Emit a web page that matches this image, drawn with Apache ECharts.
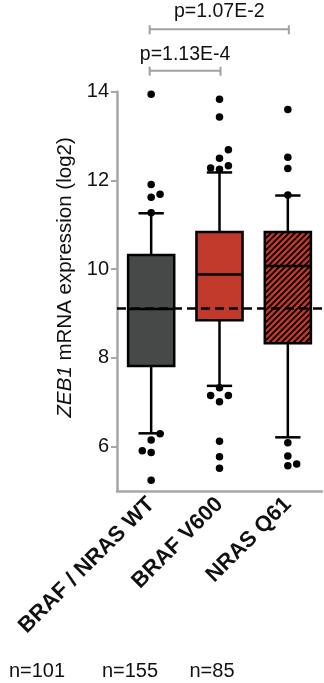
<!DOCTYPE html>
<html>
<head>
<meta charset="utf-8">
<script src="https://cdn.jsdelivr.net/npm/echarts@6/dist/echarts.min.js"></script>
<style>
html,body{margin:0;padding:0;background:#fff;}
#chart{width:324px;height:683px;}
</style>
</head>
<body>
<div id="chart"></div>
<script>
// ---- data ----
var categories = ['BRAF / NRAS WT', 'BRAF V600', 'NRAS Q61'];
var nLabels = ['n=101', 'n=155', 'n=85'];
var yTicks = [6, 8, 10, 12, 14];
var whiskerLow  = [6.30, 7.37, 6.21];
var quartile1   = [7.82, 8.85, 8.33];
var medians     = [9.10, 9.88, 10.07];
var quartile3   = [10.32, 10.84, 10.84];
var whiskerHigh = [11.26, 12.18, 11.66];
var refLine = 9.12;
// outliers: group index, horizontal jitter (category units), value
var outlierGroup  = [0,0,0,0,0,0,0,0,0,0, 1,1,1,1,1,1,1,1,1,1,1,1,1,1, 2,2,2,2,2,2,2,2];
var outlierJitter = [0,0,0,0.13,0,0.13,0,-0.13,0,0, 0,0,0.13,0,0.13,-0.13,0,0,-0.13,0.13,0,0,0,0, 0,0,0,0,0,0,0,0.13];
var outlierValue  = [13.94,11.91,11.62,11.69,11.27,6.29,6.15,5.91,5.87,5.24,
                     13.83,13.43,12.69,12.50,12.33,12.28,12.25,7.33,7.15,7.15,7.01,6.12,5.77,5.51,
                     13.60,12.52,12.27,11.67,6.09,5.79,5.57,5.61];
var comparisons = [ {from: 0, to: 1, text: 'p=1.13E-4'}, {from: 0, to: 2, text: 'p=1.07E-2'} ];

// ---- styles ----
var RED = '#c0392b';
function hatch() {
  var s = 6, c = document.createElement('canvas');
  c.width = s; c.height = s;
  var g = c.getContext('2d');
  g.fillStyle = RED; g.fillRect(0, 0, s, s);
  g.strokeStyle = '#000'; g.lineWidth = 1.8;
  g.beginPath();
  g.moveTo(-1, s + 1); g.lineTo(s + 1, -1);
  g.moveTo(-1, 1); g.lineTo(1, -1);
  g.moveTo(s - 1, s + 1); g.lineTo(s + 1, s - 1);
  g.stroke();
  return {image: c, repeat: 'repeat'};
}
var boxFills = ['#474948', RED, hatch()];

var boxData = categories.map(function (c, i) {
  return [i, whiskerLow[i], quartile1[i], medians[i], quartile3[i], whiskerHigh[i]];
});
var outlierData = outlierValue.map(function (v, i) {
  return [outlierGroup[i] + outlierJitter[i], v];
});

var chart = echarts.init(document.getElementById('chart'));
var AX = '#a6a6a6';
var option = {
  animation: false,
  grid: {left: 117, right: 2, top: 91.7, bottom: 192},
  xAxis: [{
    type: 'category', data: categories,
    axisLine: {onZero: false, lineStyle: {color: AX, width: 2.5}},
    axisTick: {alignWithLabel: true, length: 6, lineStyle: {color: AX, width: 2}},
    axisLabel: {rotate: 45, margin: 10, color: '#111', fontWeight: 'bold',
      fontFamily: 'Liberation Sans', fontSize: 22}
  }, {
    type: 'value', min: -0.5, max: 2.5, show: false
  }],
  yAxis: {
    type: 'value', min: 5, max: 14,
    name: '{i|ZEB1} mRNA expression (log2)',
    nameLocation: 'middle', nameGap: 34, nameRotate: 90,
    nameTextStyle: {color: '#111', fontFamily: 'Liberation Sans', fontSize: 20.5,
      padding: [0, 0, 0, 28],
      rich: {i: {fontStyle: 'italic', color: '#111', fontFamily: 'Liberation Sans', fontSize: 20.5}}},
    axisLine: {show: true, onZero: false, lineStyle: {color: AX, width: 2.5}},
    axisTick: {show: true, length: 6, lineStyle: {color: AX, width: 2}, customValues: yTicks},
    axisLabel: {color: '#111', fontFamily: 'Liberation Sans', fontSize: 20, margin: 8, customValues: yTicks},
    splitLine: {show: false}
  },
  series: [{
    type: 'custom', xAxisIndex: 1, data: boxData, z: 2,
    renderItem: function (params, api) {
      var i = api.value(0);
      var pLow = api.coord([i, api.value(1)]);
      var pQ1 = api.coord([i, api.value(2)]);
      var pMed = api.coord([i, api.value(3)]);
      var pQ3 = api.coord([i, api.value(4)]);
      var pHigh = api.coord([i, api.value(5)]);
      var unit = api.size([1, 0])[0];
      var bw = unit * 0.675, cw = unit * 0.37;
      var x = pQ1[0];
      var ln = {stroke: '#000', lineWidth: 2.5};
      return {type: 'group', children: [
        {type: 'line', shape: {x1: x, y1: pHigh[1], x2: x, y2: pLow[1]}, style: ln},
        {type: 'line', shape: {x1: x - cw / 2, y1: pHigh[1], x2: x + cw / 2, y2: pHigh[1]}, style: ln},
        {type: 'line', shape: {x1: x - cw / 2, y1: pLow[1], x2: x + cw / 2, y2: pLow[1]}, style: ln},
        {type: 'rect', shape: {x: x - bw / 2, y: pQ3[1], width: bw, height: pQ1[1] - pQ3[1]},
          style: {fill: boxFills[params.dataIndex], stroke: '#000', lineWidth: 2.5}},
        {type: 'line', shape: {x1: x - bw / 2, y1: pMed[1], x2: x + bw / 2, y2: pMed[1]}, style: ln}
      ]};
    }
  }, {
    type: 'scatter', xAxisIndex: 1, data: outlierData, symbolSize: 7.5, z: 3,
    itemStyle: {color: '#000', opacity: 1},
    markLine: {
      silent: true, symbol: 'none', label: {show: false},
      lineStyle: {color: '#000', width: 2.5, type: [9, 5]},
      data: [{yAxis: refLine}]
    }
  }]
};
chart.setOption(option);

// significance brackets and sample sizes
var GR = '#a0a0a0';
var bracketY = [70.7, 29.3];
var textY = [65, 21.5];
var graphics = [];
comparisons.forEach(function (c, k) {
  var x1 = chart.convertToPixel({xAxisIndex: 1}, c.from) - 1.5;
  var x2 = chart.convertToPixel({xAxisIndex: 1}, c.to) + 1;
  var y = bracketY[k];
  var st = {stroke: GR, lineWidth: 2};
  graphics.push({type: 'line', shape: {x1: x1, y1: y, x2: x2, y2: y}, style: st});
  graphics.push({type: 'line', shape: {x1: x1, y1: y - 4, x2: x1, y2: y + 5}, style: st});
  graphics.push({type: 'line', shape: {x1: x2, y1: y - 4, x2: x2, y2: y + 5}, style: st});
  graphics.push({type: 'text', x: (x1 + x2) / 2, y: textY[k],
    style: {text: c.text, fill: '#111', font: '19.5px "Liberation Sans"', textAlign: 'center', textVerticalAlign: 'bottom'}});
});
var nX = [37, 130, 212];
nLabels.forEach(function (t, i) {
  graphics.push({type: 'text', x: nX[i], y: 681,
    style: {text: t, fill: '#111', font: '20px "Liberation Sans"', textAlign: 'center', textVerticalAlign: 'bottom'}});
});
chart.setOption({graphic: graphics});
</script>
</body>
</html>
